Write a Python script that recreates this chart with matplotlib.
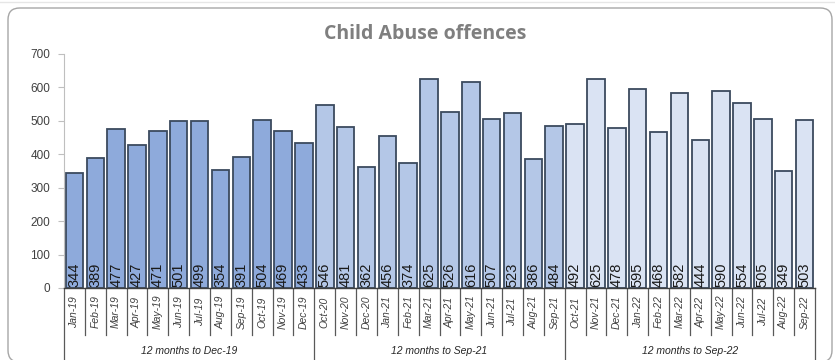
import matplotlib.pyplot as plt
from matplotlib.patches import FancyBboxPatch
from matplotlib.transforms import blended_transform_factory

# Monthly counts, three 12-month windows
months = ['Jan-19', 'Feb-19', 'Mar-19', 'Apr-19', 'May-19', 'Jun-19',
          'Jul-19', 'Aug-19', 'Sep-19', 'Oct-19', 'Nov-19', 'Dec-19',
          'Oct-20', 'Nov-20', 'Dec-20', 'Jan-21', 'Feb-21', 'Mar-21',
          'Apr-21', 'May-21', 'Jun-21', 'Jul-21', 'Aug-21', 'Sep-21',
          'Oct-21', 'Nov-21', 'Dec-21', 'Jan-22', 'Feb-22', 'Mar-22',
          'Apr-22', 'May-22', 'Jun-22', 'Jul-22', 'Aug-22', 'Sep-22']
offences = [344, 389, 477, 427, 471, 501, 499, 354, 391, 504, 469, 433,
            546, 481, 362, 456, 374, 625, 526, 616, 507, 523, 386, 484,
            492, 625, 478, 595, 468, 582, 444, 590, 554, 505, 349, 503]
periods = ['12 months to Dec-19', '12 months to Sep-21', '12 months to Sep-22']
period_colors = ['#8eaadb', '#b4c7e7', '#dae3f3']

fig = plt.figure(figsize=(8.35, 3.6), dpi=100)
ax = fig.add_axes([64 / 835, 72 / 360, 751 / 835, 234 / 360])

n_per = len(months) // len(periods)
colors = [period_colors[i // n_per] for i in range(len(months))]
x = list(range(len(months)))
ax.bar(x, offences, width=0.84, color=colors, edgecolor='#3b4a5e', linewidth=1.3, zorder=2)

for xi, v in zip(x, offences):
    ax.text(xi, 4, str(v), rotation=90, ha='center', va='bottom',
            fontsize=10.5, family='Liberation Sans', color='#1a1a1a', zorder=3)

ax.set_xlim(-0.5, len(months) - 0.5)
ax.set_ylim(0, 700)
ax.set_yticks(range(0, 701, 100))
ax.tick_params(axis='y', length=4, width=0.8, color='#bfbfbf', pad=6,
               labelsize=8.5, labelcolor='#404040')
for lab in ax.get_yticklabels():
    lab.set_family('Liberation Sans')
ax.set_xticks([])
for s in ['top', 'right']:
    ax.spines[s].set_visible(False)
ax.spines['left'].set_color('#bfbfbf')
ax.spines['bottom'].set_color('#404040')
ax.spines['bottom'].set_linewidth(1)

# two-level category axis drawn below the plot
trans = blended_transform_factory(ax.transData, ax.transAxes)
short_y = -47 / 234
long_y = -72 / 234
for i in range(len(months) + 1):
    edge = i - 0.5
    low = long_y if i % n_per == 0 else short_y
    ax.plot([edge, edge], [0, low], transform=trans, color='#595959',
            lw=0.9, clip_on=False)
for xi, m in zip(x, months):
    ax.text(xi, -24 / 234, m, transform=trans, rotation=90, ha='center',
            va='center', fontsize=7.5, style='italic', family='Liberation Sans',
            color='#404040')
for g, name in enumerate(periods):
    ax.text(g * n_per + (n_per - 1) / 2, -63 / 234, name, transform=trans,
            ha='center', va='center', fontsize=7.5, style='italic',
            family='Liberation Sans', color='#262626')

fig.text(425 / 835, 1 - 34 / 360, 'Child Abuse offences', ha='center',
         va='center', fontsize=14, weight='bold', family='Open Sans',
         color='#7f7f7f')

# rounded chart frame
frame = FancyBboxPatch((8 / 835, -2 / 360), 824 / 835, 354 / 360,
                       boxstyle='round,pad=0,rounding_size=0.014',
                       mutation_aspect=835 / 360, transform=fig.transFigure,
                       facecolor='none', edgecolor='#a6a6a6', linewidth=1)
fig.patches.append(frame)
fig.add_artist(plt.Line2D([0, 1], [1 - 1.5 / 360] * 2, transform=fig.transFigure,
                          color='#e6e6e6', lw=1))

fig.savefig('out.png', dpi=100)
